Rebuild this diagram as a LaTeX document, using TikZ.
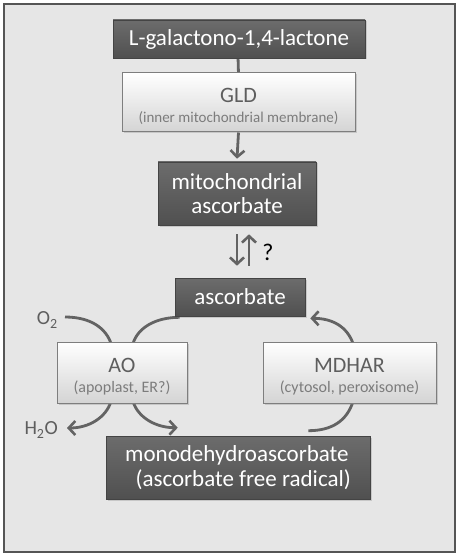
\documentclass[tikz,border=0pt]{standalone}
\usepackage{fontspec}
\setmainfont{Carlito}
\usetikzlibrary{arrows.meta,shadows,calc}
\pgfdeclarelayer{back}
\pgfdeclarelayer{mid}
\pgfsetlayers{back,mid,main}
\definecolor{frameline}{HTML}{555555}
\definecolor{framefill}{HTML}{E6E6E6}
\definecolor{darkA}{HTML}{6C6C6C}
\definecolor{darkB}{HTML}{505050}
\definecolor{lightB}{HTML}{D4D4D4}
\definecolor{lightline}{HTML}{7E7E7E}
\definecolor{arrowc}{HTML}{636363}
\definecolor{titlec}{HTML}{5E5E5E}
\definecolor{subc}{HTML}{7C7C7C}
\tikzset{
  darkbox/.style={draw=darkB!85!black, line width=0.6pt, top color=darkA, bottom color=darkB,
    text=white, font=\fontsize{23}{27}\selectfont, align=center, inner sep=0pt,
    drop shadow={shadow xshift=1.5pt, shadow yshift=-1.5pt, opacity=0.3}},
  lightbox/.style={draw=lightline, line width=1pt, top color=white, bottom color=lightB,
    text=titlec, align=center, inner sep=0pt,
    drop shadow={shadow xshift=1.5pt, shadow yshift=-1.5pt, opacity=0.3}},
  boxtitle/.style={text=titlec, font=\fontsize{22}{24}\selectfont, inner sep=0pt},
  boxsub/.style={text=subc, font=\fontsize{16}{18}\selectfont, inner sep=0pt},
  flow/.style={draw=arrowc, line width=2.8pt},
  flowarrow/.style={flow, -{Straight Barb[length=6.5pt,width=14pt,line width=2.6pt]}},
  sidelabel/.style={text=titlec, font=\fontsize{20}{22}\selectfont, inner sep=0pt}
}
\begin{document}
\begin{tikzpicture}[x=1pt,y=-1pt]
\useasboundingbox (0,0) rectangle (459,556);
\begin{pgfonlayer}{back}
\fill[white] (0,0) rectangle (459,556);
\draw[draw=frameline, fill=framefill, line width=2pt] (4,4) rectangle (455,552);
\end{pgfonlayer}

\node[sidelabel, anchor=east] (o2) at (58,320) {O\textsubscript{2}};
\node[sidelabel, anchor=east] (h2o) at (58,430) {H\textsubscript{2}O};

% boxes
\node[darkbox, minimum width=252, minimum height=38] (lgal) at (239,39) {L-galactono-1,4-lactone};
\node[lightbox, minimum width=233, minimum height=59] (gld) at (238.5,102.5) {};
\node[boxtitle] (gldt1) at (238.5,95) {GLD};
\node[boxsub, font=\fontsize{15}{17}\selectfont] (gldt2) at (238.5,118) {(inner mitochondrial membrane)};
\node[darkbox, minimum width=158, minimum height=63] (mito) at (237,193.5) {mitochondrial\\[-3pt]ascorbate};
\node[darkbox, minimum width=130, minimum height=38] (asc) at (240,297) {ascorbate};
\node[lightbox, minimum width=130, minimum height=61] (ao) at (122,372.5) {};
\node[boxtitle] (aot1) at (122,365) {AO};
\node[boxsub] (aot2) at (122,388) {(apoplast, ER?)};
\node[lightbox, minimum width=173, minimum height=61] (mdhar) at (349.5,372.5) {};
\node[boxtitle] (mdt1) at (349.5,365) {MDHAR};
\node[boxsub] (mdt2) at (349.5,388) {(cytosol, peroxisome)};
\node[darkbox, minimum width=264, minimum height=63, align=left] (mono) at (238,467.5) {monodehydroascorbate\\[-2pt]\hspace{0.45em}(ascorbate free radical)};
\node[font=\fontsize{24}{26}\selectfont, inner sep=0pt] (q) at (268,252) {?};

\begin{pgfonlayer}{mid}
\draw[flow] ($(lgal.south)+(-1,-2)$) -- ($(gld.north)+(0,2)$);
\draw[flowarrow] (gld.south) -- ($(mito.north)+(0,-3)$);
\draw[flowarrow] ($(mito.south)+(0,9)$) -- ($(asc.north)+(-3,-12)$);
\draw[flowarrow] ($(asc.north)+(9,-12)$) -- ($(mito.south)+(12,9)$);

\coordinate (aotl) at ($(ao.north)+(-11,2)$);
\coordinate (aotr) at ($(ao.north)+(11,2)$);
\coordinate (aobl) at ($(ao.south)+(-11,-2)$);
\coordinate (aobr) at ($(ao.south)+(11,-2)$);
\coordinate (o2end) at ($(o2.east)+(7,-3)$);
\coordinate (h2oend) at ($(h2o.east)+(9,-2)$);
\coordinate (ascl) at ($(asc.south west)+(5,1)$);
\coordinate (monol) at ($(mono.north west)+(72,-8)$);
\draw[flow] (o2end) .. controls ($(o2end)+(26,0)$) and ($(aotl)+(-5,-15)$) .. (aotl);
\draw[flow] (ascl) .. controls ($(ascl)+(-24,0)$) and ($(aotr)+(5,-16)$) .. (aotr);
\draw[flowarrow] (aobl) .. controls ($(aobl)+(-5,16)$) and ($(h2oend)+(22,0)$) .. (h2oend);
\draw[flowarrow] (aobr) .. controls ($(aobr)+(5,16)$) and ($(monol)+(-22,0)$) .. (monol);

\coordinate (mdt) at ($(mdhar.north)+(3.5,2)$);
\coordinate (mdb) at ($(mdhar.south)+(3.5,-2)$);
\coordinate (ascr) at ($(asc.south east)+(5,2)$);
\coordinate (monor) at ($(mono.north east)+(-62,-5)$);
\draw[flowarrow] (mdt) .. controls ($(mdt)+(-6,-17)$) and ($(ascr)+(22,0)$) .. (ascr);
\draw[flow] (mdb) .. controls ($(mdb)+(-6,19)$) and ($(monor)+(24,0)$) .. (monor);
\end{pgfonlayer}
\end{tikzpicture}
\end{document}
